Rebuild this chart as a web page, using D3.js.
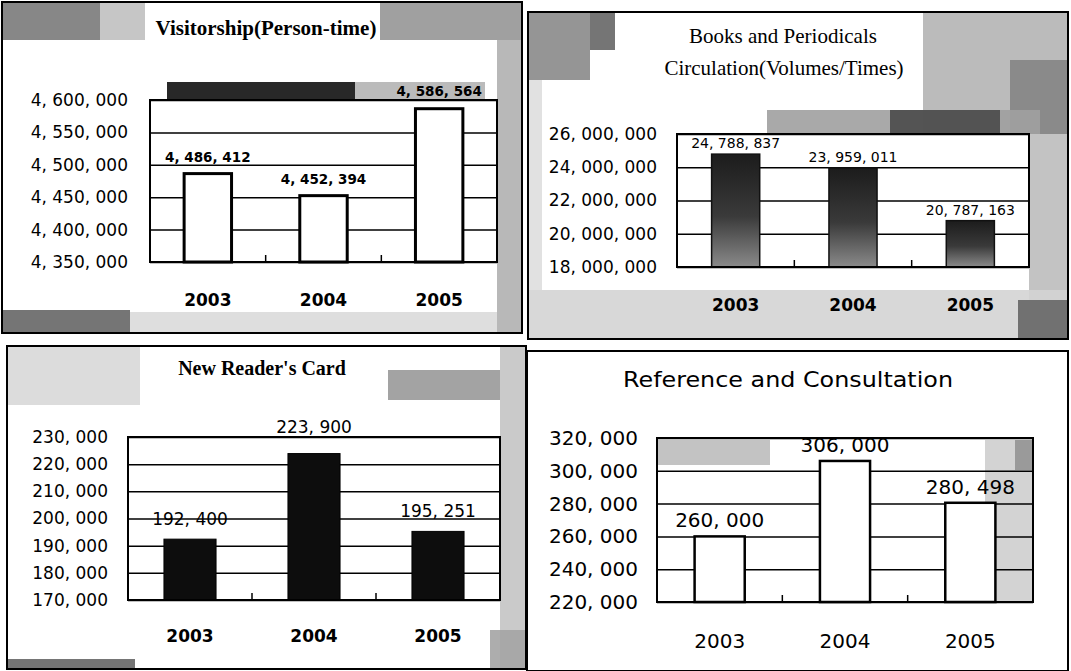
<!DOCTYPE html>
<html>
<head>
<meta charset="utf-8">
<title>Library statistics 2003-2005</title>
<script src="https://d3js.org/d3.v7.min.js"></script>
<style>
  body { margin: 0; background: #fff; }
  svg { display: block; }
</style>
</head>
<body>
<div id="chart"></div>
<script>
// data
var years = ["2003", "2004", "2005"];

var visitorValues = [4486412, 4452394, 4586564];
var visitorTicks = [4350000, 4400000, 4450000, 4500000, 4550000, 4600000];

var circulationValues = [24788837, 23959011, 20787163];
var circulationTicks = [18000000, 20000000, 22000000, 24000000, 26000000];

var cardValues = [192400, 223900, 195251];
var cardTicks = [170000, 180000, 190000, 200000, 210000, 220000, 230000];

var consultValues = [260000, 306000, 280498];
var consultTicks = [220000, 240000, 260000, 280000, 300000, 320000];

var fmt = function (v) { return d3.format(",")(v).replace(/,/g, ", "); };

var svg = d3.select("#chart").append("svg")
  .attr("width", 1071)
  .attr("height", 671);

// gradient for the dark circulation bars
var defs = svg.append("defs");
var grad = defs.append("linearGradient").attr("id", "darkbar")
  .attr("x1", 0).attr("y1", 0).attr("x2", 0).attr("y2", 1);
grad.append("stop").attr("offset", "0%").attr("stop-color", "#1c1c1c");
grad.append("stop").attr("offset", "55%").attr("stop-color", "#3a3a3a");
grad.append("stop").attr("offset", "100%").attr("stop-color", "#8a8a8a");

var panels = [
  {
    values: visitorValues, ticks: visitorTicks,
    box: [2, 2, 522, 333], plot: [150, 100, 497, 262],
    labelX: 128, tickFs: 17,
    yearBase: 306, yearFs: 17, yearWeight: "bold",
    valFs: 13.5, valWeight: "bold", valOff: 12,
    barFill: "#fff", barStroke: "#000", barSw: 3, barRatio: 0.41,
    titles: [{ text: "Visitorship(Person-time)", x: 266, y: 35, fs: 21, weight: "bold", family: "Liberation Serif, serif" }],
    patches: [
      [2, 2, 98, 38, "#7a7a7a"], [100, 2, 45, 38, "#c0c0c0"],
      [380, 2, 142, 38, "#969696"], [497, 40, 25, 293, "#b0b0b0"],
      [2, 310, 128, 23, "#666"], [130, 312, 367, 21, "#dadada"],
      [167, 82, 188, 17, "#111"], [355, 82, 130, 17, "#b4b4b4"]
    ]
  },
  {
    values: circulationValues, ticks: circulationTicks,
    box: [528, 12, 1068, 339], plot: [677, 134, 1029, 267],
    labelX: 657, tickFs: 17,
    yearBase: 311, yearFs: 17, yearWeight: "bold",
    valFs: 14, valWeight: "normal", valOff: 6,
    barFill: "url(#darkbar)", barStroke: "#111", barSw: 1.5, barRatio: 0.41,
    titles: [
      { text: "Books and Periodicals", x: 783, y: 43, fs: 21, weight: "normal", family: "Liberation Serif, serif" },
      { text: "Circulation(Volumes/Times)", x: 784, y: 75, fs: 21, weight: "normal", family: "Liberation Serif, serif" }
    ],
    patches: [
      [528, 12, 62, 68, "#8a8a8a"], [590, 12, 25, 38, "#666"],
      [923, 12, 145, 122, "#b4b4b4"], [1010, 60, 58, 74, "#858585"],
      [767, 110, 273, 24, "#a0a0a0"], [890, 110, 110, 24, "#4a4a4a"],
      [1029, 134, 39, 205, "#bcbcbc"], [528, 290, 540, 49, "#d4d4d4"],
      [1018, 300, 50, 39, "#666"], [528, 80, 14, 210, "#dedede"]
    ]
  },
  {
    values: cardValues, ticks: cardTicks,
    box: [7, 346, 526, 669], plot: [128, 437, 500, 600],
    labelX: 108, tickFs: 17,
    yearBase: 642, yearFs: 17, yearWeight: "bold",
    valFs: 17, valWeight: "normal", valOff: 14,
    barFill: "#0d0d0d", barStroke: "#000", barSw: 1, barRatio: 0.42,
    titles: [{ text: "New Reader's Card", x: 262, y: 375, fs: 20, weight: "bold", family: "Liberation Serif, serif" }],
    patches: [
      [7, 346, 133, 59, "#d8d8d8"], [388, 370, 112, 30, "#999"],
      [500, 346, 26, 323, "#c4c4c4"], [7, 659, 128, 10, "#666"],
      [490, 630, 36, 39, "#a4a4a4"]
    ]
  },
  {
    values: consultValues, ticks: consultTicks,
    box: [527, 351, 1068, 671], plot: [657, 438, 1033, 602],
    labelX: 638, tickFs: 20,
    yearBase: 648, yearFs: 20, yearWeight: "normal",
    valFs: 20, valWeight: "normal", valOff: 9,
    barFill: "#fff", barStroke: "#000", barSw: 2.5, barRatio: 0.4,
    titles: [{ text: "Reference and Consultation", x: 788, y: 387, fs: 22, weight: "normal", family: "DejaVu Sans, sans-serif", len: 330 }],
    patches: [
      [657, 440, 113, 25, "#bcbcbc"], [985, 440, 48, 162, "#cecece"],
      [1015, 440, 18, 30, "#949494"]
    ]
  }
];

function drawPanel(p) {
  var g = svg.append("g");
  var x0 = p.plot[0], y0 = p.plot[1], x1 = p.plot[2], y1 = p.plot[3];

  var x = d3.scaleBand().domain(years).range([x0, x1]).padding(0);
  var y = d3.scaleLinear().domain(d3.extent(p.ticks)).range([y1, y0]);

  g.append("rect")
    .attr("x", p.box[0]).attr("y", p.box[1])
    .attr("width", p.box[2] - p.box[0]).attr("height", p.box[3] - p.box[1])
    .attr("fill", "#fff");

  g.append("rect")
    .attr("x", x0).attr("y", y0).attr("width", x1 - x0).attr("height", y1 - y0)
    .attr("fill", "#fff");

  // scan smudges
  g.selectAll("rect.patch").data(p.patches).enter().append("rect")
    .attr("class", "patch")
    .attr("x", function (d) { return d[0]; })
    .attr("y", function (d) { return d[1]; })
    .attr("width", function (d) { return d[2]; })
    .attr("height", function (d) { return d[3]; })
    .attr("fill", function (d) { return d[4]; })
    .attr("opacity", 0.9);

  // gridlines
  var grid = g.append("g")
    .attr("transform", "translate(" + x0 + ",0)")
    .call(d3.axisLeft(y).tickValues(p.ticks).tickSize(-(x1 - x0)).tickFormat(""));
  grid.select(".domain").remove();
  grid.selectAll("line").attr("stroke", "#000").attr("stroke-width", 1.5);

  // tick labels
  var yAx = g.append("g")
    .attr("transform", "translate(" + x0 + ",0)")
    .call(d3.axisLeft(y).tickValues(p.ticks).tickSize(0).tickPadding(x0 - p.labelX).tickFormat(fmt));
  yAx.select(".domain").remove();
  yAx.selectAll("text")
    .attr("fill", "#000")
    .style("font-family", "DejaVu Sans, sans-serif")
    .style("font-size", p.tickFs + "px");

  // bars
  var bw = x.bandwidth() * p.barRatio;
  g.selectAll("rect.bar").data(p.values).enter().append("rect")
    .attr("class", "bar")
    .attr("x", function (d, i) { return x(years[i]) + (x.bandwidth() - bw) / 2; })
    .attr("y", function (d) { return y(d); })
    .attr("width", bw)
    .attr("height", function (d) { return y1 - y(d); })
    .attr("fill", p.barFill)
    .attr("stroke", p.barStroke)
    .attr("stroke-width", p.barSw);

  // frame
  g.append("rect")
    .attr("x", x0).attr("y", y0).attr("width", x1 - x0).attr("height", y1 - y0)
    .attr("fill", "none").attr("stroke", "#000").attr("stroke-width", 2);

  // category separators
  g.selectAll("line.sep").data(years.slice(1)).enter().append("line")
    .attr("class", "sep")
    .attr("x1", function (d) { return x(d); }).attr("x2", function (d) { return x(d); })
    .attr("y1", y1).attr("y2", y1 - 7)
    .attr("stroke", "#000").attr("stroke-width", 1.5);

  // year labels
  var xAx = g.append("g")
    .attr("transform", "translate(0," + y1 + ")")
    .call(d3.axisBottom(x).tickSize(0).tickPadding(p.yearBase - 0.71 * p.yearFs - y1));
  xAx.select(".domain").remove();
  xAx.selectAll("text")
    .attr("fill", "#000")
    .style("font-family", "DejaVu Sans, sans-serif")
    .style("font-size", p.yearFs + "px")
    .style("font-weight", p.yearWeight);

  // value labels, pushed above the frame when they would sit on its top edge
  g.selectAll("text.val").data(p.values).enter().append("text")
    .attr("class", "val")
    .attr("x", function (d, i) { return x(years[i]) + x.bandwidth() / 2; })
    .attr("y", function (d) {
      var b = y(d) - p.valOff;
      if (b > y0 - 4 && b < y0 + 0.6 * p.valFs) b = y0 - 4;
      return b;
    })
    .attr("text-anchor", "middle")
    .style("font-family", "DejaVu Sans, sans-serif")
    .style("font-size", p.valFs + "px")
    .style("font-weight", p.valWeight)
    .text(fmt);

  // titles
  p.titles.forEach(function (t) {
    var tt = g.append("text")
      .attr("x", t.x).attr("y", t.y)
      .attr("text-anchor", "middle")
      .style("font-family", t.family)
      .style("font-size", t.fs + "px")
      .style("font-weight", t.weight)
      .text(t.text);
    if (t.len) tt.attr("textLength", t.len).attr("lengthAdjust", "spacingAndGlyphs");
  });

  // outer border
  g.append("rect")
    .attr("x", p.box[0]).attr("y", p.box[1])
    .attr("width", p.box[2] - p.box[0]).attr("height", p.box[3] - p.box[1])
    .attr("fill", "none").attr("stroke", "#000").attr("stroke-width", 2);
}

panels.forEach(drawPanel);
</script>
</body>
</html>
